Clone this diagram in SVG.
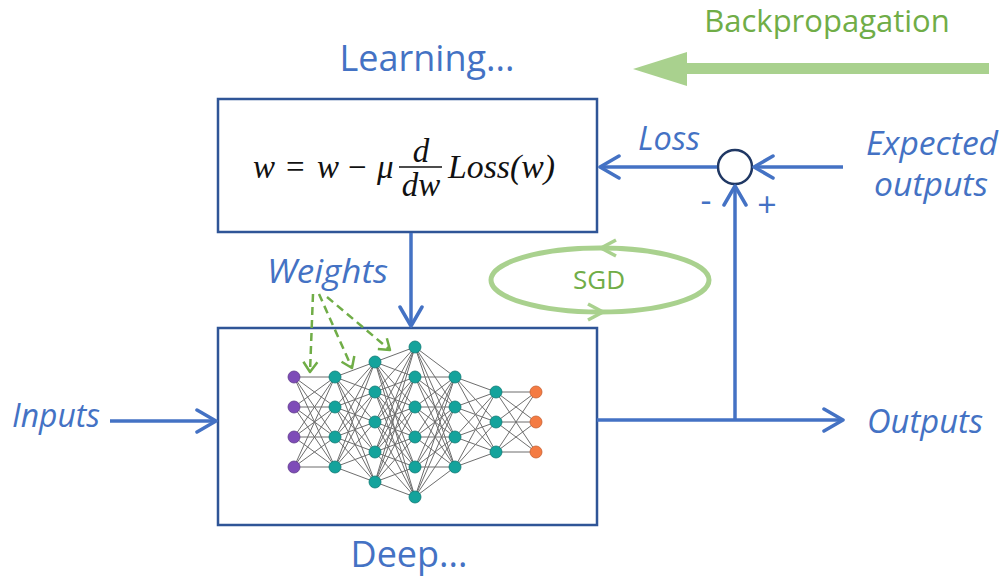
<svg xmlns="http://www.w3.org/2000/svg" width="1005" height="577" viewBox="0 0 1005 577">
<defs>
<style>
.lbl{font-family:"Open Sans","Noto Sans","Liberation Sans",sans-serif;fill:#4472C4;}
.it{font-style:italic;font-size:32px;}
.big{font-size:36px;}
.grn{font-family:"Open Sans","Noto Sans","Liberation Sans",sans-serif;fill:#70AD47;}
.math{font-family:"Liberation Serif","DejaVu Serif",serif;font-size:33px;fill:#111;}
.box{fill:#fff;stroke:#2F5597;stroke-width:2.5;}
.conn{fill:none;stroke:#4472C4;stroke-width:3.5;}
.edge{stroke:#555;stroke-width:1;opacity:0.85;}
.wt{fill:none;stroke:#70AD47;stroke-width:2.5;stroke-dasharray:8 5;}
.n1{fill:#7E4CB8;stroke:#5f3a8c;stroke-width:0.8;}
.n2{fill:#14A39C;stroke:#0e7a74;stroke-width:0.8;}
.n3{fill:#F47B43;stroke:#c85f2f;stroke-width:0.8;}
</style>
<marker id="ah" markerUnits="userSpaceOnUse" viewBox="-22 -14 24 28" refX="0" refY="0" markerWidth="24" markerHeight="28" orient="auto">
<path d="M-19,-11 L0,0 L-19,11" fill="none" stroke="#4472C4" stroke-width="3.5" stroke-linecap="round" stroke-linejoin="round"/>
</marker>
<marker id="gah" markerUnits="userSpaceOnUse" viewBox="-14 -10 16 20" refX="0" refY="0" markerWidth="16" markerHeight="20" orient="auto">
<path d="M-10,-7 L0,0 L-10,7" fill="none" stroke="#70AD47" stroke-width="2.5" stroke-linejoin="round"/>
</marker>
<marker id="sah" markerUnits="userSpaceOnUse" viewBox="-18 -11 20 22" refX="0" refY="0" markerWidth="20" markerHeight="22" orient="auto">
<path d="M-15,-8 L0,0 L-15,8" fill="none" stroke="#A9D18E" stroke-width="3.5" stroke-linejoin="round"/>
</marker>
</defs>
<rect width="1005" height="577" fill="#fff"/>

<g id="titles">
<text class="lbl big" x="427" y="71" text-anchor="middle">Learning...</text>
<text class="lbl big" x="409" y="567" text-anchor="middle">Deep...</text>
<text class="grn" x="827" y="32" font-size="31" text-anchor="middle">Backpropagation</text>
</g>

<g id="backprop-arrow">
<rect x="686" y="63" width="303" height="11" fill="#A9D18E"/>
<polygon points="633,69 687,52 687,86" fill="#A9D18E"/>
</g>

<g id="update-box">
<rect class="box" x="218" y="99" width="379" height="133"/>
<text class="math" font-style="italic" x="253" y="178">w</text>
<text class="math" x="286" y="178">=</text>
<text class="math" font-style="italic" x="317" y="178">w</text>
<text class="math" x="348" y="178">−</text>
<text class="math" font-style="italic" x="377" y="178">μ</text>
<text class="math" font-style="italic" x="421" y="162" text-anchor="middle">d</text>
<line x1="399" y1="167" x2="442" y2="167" stroke="#111" stroke-width="1.5"/>
<text class="math" font-style="italic" x="421" y="196" text-anchor="middle">dw</text>
<text class="math" font-style="italic" x="448" y="178" textLength="107" lengthAdjust="spacingAndGlyphs">Loss(w)</text>
</g>

<g id="network-box">
<rect class="box" x="218" y="328" width="379" height="197"/>
<g id="edges">
<path class="edge" d="M294,377L335,377M294,377L335,407M294,377L335,437M294,377L335,467M294,407L335,377M294,407L335,407M294,407L335,437M294,407L335,467M294,437L335,377M294,437L335,407M294,437L335,437M294,437L335,467M294,467L335,377M294,467L335,407M294,467L335,437M294,467L335,467"/>
<path class="edge" d="M335,377L375,362M335,377L375,392M335,377L375,422M335,377L375,452M335,377L375,482M335,407L375,362M335,407L375,392M335,407L375,422M335,407L375,452M335,407L375,482M335,437L375,362M335,437L375,392M335,437L375,422M335,437L375,452M335,437L375,482M335,467L375,362M335,467L375,392M335,467L375,422M335,467L375,452M335,467L375,482"/>
<path class="edge" d="M375,362L415,347M375,362L415,377M375,362L415,407M375,362L415,437M375,362L415,467M375,362L415,497M375,392L415,347M375,392L415,377M375,392L415,407M375,392L415,437M375,392L415,467M375,392L415,497M375,422L415,347M375,422L415,377M375,422L415,407M375,422L415,437M375,422L415,467M375,422L415,497M375,452L415,347M375,452L415,377M375,452L415,407M375,452L415,437M375,452L415,467M375,452L415,497M375,482L415,347M375,482L415,377M375,482L415,407M375,482L415,437M375,482L415,467M375,482L415,497"/>
<path class="edge" d="M415,347L455,377M415,347L455,407M415,347L455,437M415,347L455,467M415,377L455,377M415,377L455,407M415,377L455,437M415,377L455,467M415,407L455,377M415,407L455,407M415,407L455,437M415,407L455,467M415,437L455,377M415,437L455,407M415,437L455,437M415,437L455,467M415,467L455,377M415,467L455,407M415,467L455,437M415,467L455,467M415,497L455,377M415,497L455,407M415,497L455,437M415,497L455,467"/>
<path class="edge" d="M455,377L496,392M455,377L496,422M455,377L496,452M455,407L496,392M455,407L496,422M455,407L496,452M455,437L496,392M455,437L496,422M455,437L496,452M455,467L496,392M455,467L496,422M455,467L496,452"/>
<path class="edge" d="M496,392L536,392M496,392L536,422M496,392L536,452M496,422L536,392M496,422L536,422M496,422L536,452M496,452L536,392M496,452L536,422M496,452L536,452"/>
</g>
<g id="neurons">
<circle class="n1" cx="294" cy="377" r="6"/><circle class="n1" cx="294" cy="407" r="6"/><circle class="n1" cx="294" cy="437" r="6"/><circle class="n1" cx="294" cy="467" r="6"/>
<circle class="n2" cx="335" cy="377" r="6"/><circle class="n2" cx="335" cy="407" r="6"/><circle class="n2" cx="335" cy="437" r="6"/><circle class="n2" cx="335" cy="467" r="6"/>
<circle class="n2" cx="375" cy="362" r="6"/><circle class="n2" cx="375" cy="392" r="6"/><circle class="n2" cx="375" cy="422" r="6"/><circle class="n2" cx="375" cy="452" r="6"/><circle class="n2" cx="375" cy="482" r="6"/>
<circle class="n2" cx="415" cy="347" r="6"/><circle class="n2" cx="415" cy="377" r="6"/><circle class="n2" cx="415" cy="407" r="6"/><circle class="n2" cx="415" cy="437" r="6"/><circle class="n2" cx="415" cy="467" r="6"/><circle class="n2" cx="415" cy="497" r="6"/>
<circle class="n2" cx="455" cy="377" r="6"/><circle class="n2" cx="455" cy="407" r="6"/><circle class="n2" cx="455" cy="437" r="6"/><circle class="n2" cx="455" cy="467" r="6"/>
<circle class="n2" cx="496" cy="392" r="6"/><circle class="n2" cx="496" cy="422" r="6"/><circle class="n2" cx="496" cy="452" r="6"/>
<circle class="n3" cx="536" cy="392" r="6"/><circle class="n3" cx="536" cy="422" r="6"/><circle class="n3" cx="536" cy="452" r="6"/>
</g>
</g>

<g id="sum-junction">
<circle cx="735" cy="167" r="17" fill="#fff" stroke="#203864" stroke-width="2.5"/>
<text class="lbl" x="706" y="212" font-size="34" text-anchor="middle">-</text>
<text class="lbl" x="767" y="217" font-size="34" text-anchor="middle">+</text>
</g>

<g id="sgd">
<ellipse cx="600" cy="280" rx="109" ry="32" fill="none" stroke="#A9D18E" stroke-width="5"/>
<path d="M614,248 L601,248" fill="none" stroke="none" marker-end="url(#sah)"/>
<path d="M588,312 L603,312" fill="none" stroke="none" marker-end="url(#sah)"/>
<text class="grn" x="599" y="289" font-size="26" text-anchor="middle">SGD</text>
</g>

<g id="labels">
<text class="lbl it" x="267" y="283" textLength="121" lengthAdjust="spacingAndGlyphs">Weights</text>
<text class="lbl it" x="12" y="427" textLength="88" lengthAdjust="spacingAndGlyphs">Inputs</text>
<text class="lbl it" x="867" y="433" textLength="116" lengthAdjust="spacingAndGlyphs">Outputs</text>
<text class="lbl it" x="638" y="150" textLength="62" lengthAdjust="spacingAndGlyphs">Loss</text>
<text class="lbl it" x="866" y="155" font-size="28" textLength="132" lengthAdjust="spacingAndGlyphs">Expected</text>
<text class="lbl it" x="874" y="196" font-size="28" textLength="114" lengthAdjust="spacingAndGlyphs">outputs</text>
</g>

<g id="connectors">
<line class="conn" x1="110" y1="421" x2="216" y2="421" marker-end="url(#ah)"/>
<line class="conn" x1="597" y1="420" x2="843" y2="420" marker-end="url(#ah)"/>
<line class="conn" x1="735" y1="420" x2="735" y2="186" marker-end="url(#ah)"/>
<line class="conn" x1="843" y1="167" x2="754" y2="167" marker-end="url(#ah)"/>
<line class="conn" x1="717" y1="167" x2="600" y2="167" marker-end="url(#ah)"/>
<line class="conn" x1="411" y1="233" x2="411" y2="326" marker-end="url(#ah)"/>
<path class="wt" d="M313,294 L310,372" marker-end="url(#gah)"/>
<path class="wt" d="M319,294 L352,368" marker-end="url(#gah)"/>
<path class="wt" d="M327,297 L390,350" marker-end="url(#gah)"/>
</g>
</svg>
